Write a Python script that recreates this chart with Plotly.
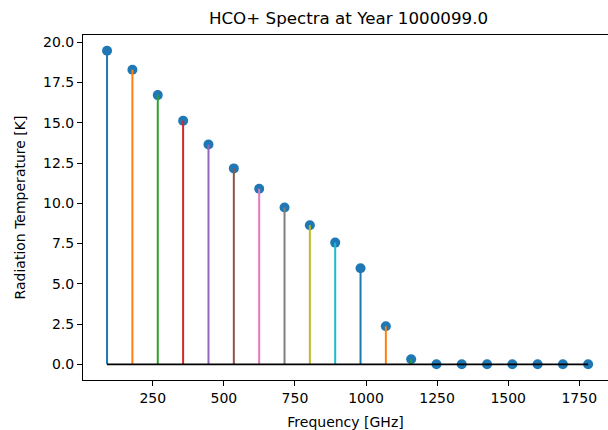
import plotly.graph_objects as go

# Data
frequencies = [89.19, 178.38, 267.56, 356.73, 445.90, 535.06, 624.21, 713.34,
               802.46, 891.56, 980.64, 1069.69, 1158.73, 1247.73, 1336.71,
               1425.66, 1514.58, 1603.46, 1692.30, 1781.11]
temperatures = [19.48, 18.30, 16.72, 15.13, 13.65, 12.17, 10.90, 9.74,
                8.64, 7.56, 5.97, 2.36, 0.31, 0.0, 0.0, 0.0, 0.0, 0.0, 0.0, 0.0]
x_ticks = [250, 500, 750, 1000, 1250, 1500, 1750]
y_ticks = [0, 2.5, 5, 7.5, 10, 12.5, 15, 17.5, 20]

stem_colors = ['#1f77b4', '#ff7f0e', '#2ca02c', '#d62728', '#9467bd',
               '#8c564b', '#e377c2', '#7f7f7f', '#bcbd22', '#17becf']

FONT = "DejaVu Sans"
fig = go.Figure()

# markers first (drawn underneath stems like matplotlib stem)
fig.add_trace(go.Scatter(
    x=frequencies, y=temperatures, mode="markers",
    marker=dict(color="#1f77b4", size=10, line=dict(width=0)),
    showlegend=False, hoverinfo="skip"))

# stems
for i, (f, t) in enumerate(zip(frequencies, temperatures)):
    fig.add_trace(go.Scatter(
        x=[f, f], y=[0, t], mode="lines",
        line=dict(color=stem_colors[i % len(stem_colors)], width=2),
        showlegend=False, hoverinfo="skip"))

# baseline
fig.add_trace(go.Scatter(
    x=[frequencies[0], frequencies[-1]], y=[0, 0], mode="lines",
    line=dict(color="black", width=1.8),
    showlegend=False, hoverinfo="skip"))

xmin = frequencies[0] - 0.05 * (frequencies[-1] - frequencies[0])
ymax_d = max(temperatures)
ypad = 0.05 * ymax_d

fig.update_layout(
    width=608, height=430,
    margin=dict(l=83, r=0, t=35, b=50),
    paper_bgcolor="white", plot_bgcolor="white",
    font=dict(family=FONT, size=14, color="black"),
    title=dict(text="HCO+ Spectra at Year 1000099.0",
               font=dict(family=FONT, size=16.7, color="black"),
               xref="container", x=348.5 / 608, xanchor="center",
               yref="container", y=1 - 18 / 430, yanchor="middle"),
    xaxis=dict(range=[xmin, 1851], tickvals=x_ticks,
               ticktext=[str(v) for v in x_ticks],
               showline=True, linecolor="black", linewidth=1, mirror=True,
               ticks="outside", ticklen=5, tickwidth=1, tickcolor="black",
               showgrid=False, zeroline=False,
               tickfont=dict(family=FONT, size=14, color="black"),
               title=dict(text="Frequency [GHz]", standoff=12,
                          font=dict(family=FONT, size=14, color="black"))),
    yaxis=dict(range=[-ypad, ymax_d + ypad], tickvals=y_ticks,
               ticktext=["%.1f" % v for v in y_ticks],
               showline=True, linecolor="black", linewidth=1,
               ticks="outside", ticklen=5, tickwidth=1, tickcolor="black",
               showgrid=False, zeroline=False,
               tickfont=dict(family=FONT, size=14, color="black"),
               title=dict(text="Radiation Temperature [K]", standoff=14,
                          font=dict(family=FONT, size=14, color="black"))),
)

fig.write_html("out.html")
